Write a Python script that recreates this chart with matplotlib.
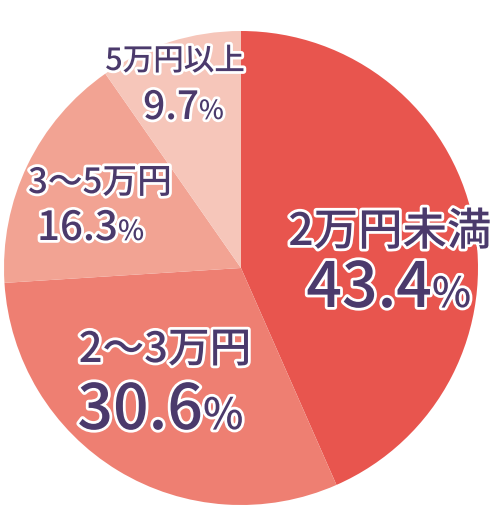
import matplotlib
matplotlib.use("Agg")
import matplotlib.pyplot as plt
import matplotlib.patheffects as pe

plt.rcParams['font.family'] = ['Noto Sans CJK JP', 'DejaVu Sans']

categories = ["2万円未満", "2〜3万円", "3〜5万円", "5万円以上"]
values = [43.4, 30.6, 16.3, 9.7]
colors = ["#E8554E", "#EE7F72", "#F2A393", "#F6C6BA"]

W, H = 500, 508
fig = plt.figure(figsize=(W / 100, H / 100), dpi=100)
ax = fig.add_axes([0, 0, 1, 1])

cx, cy, r = 241, H - 268, 237
ax.pie(values, colors=colors, startangle=90, counterclock=False,
       center=(cx, cy), radius=r, frame=True,
       wedgeprops=dict(linewidth=0))
ax.set_xlim(0, W)
ax.set_ylim(0, H)
ax.set_aspect('equal')
ax.axis('off')

tc = "#4B3A6C"
stroke = [pe.withStroke(linewidth=4, foreground="white")]

# (label center x, label baseline y (img), label size, split x, num baseline y (img), num size, pct size)
layout = [
    (390, 245, 32, 432, 307, 45, 30),
    (165, 362, 30, 203, 429, 45, 31),
    (100, 193, 25, 118, 240, 29, 20),
    (175, 70, 22, 199, 119, 28, 19),
]

for cat, v, (lx, ly, ls, sx, ny, ns, ps) in zip(categories, values, layout):
    ax.text(lx, H - ly, cat, ha='center', va='baseline', fontsize=ls,
            color=tc, weight='medium', path_effects=stroke)
    ax.text(sx, H - ny, f"{v:.1f}", ha='right', va='baseline', fontsize=ns,
            color=tc, weight='medium', path_effects=stroke)
    ax.text(sx, H - ny, "%", ha='left', va='baseline', fontsize=ps,
            color=tc, weight='medium', path_effects=stroke)

fig.savefig("out.png", dpi=100, facecolor="white")
